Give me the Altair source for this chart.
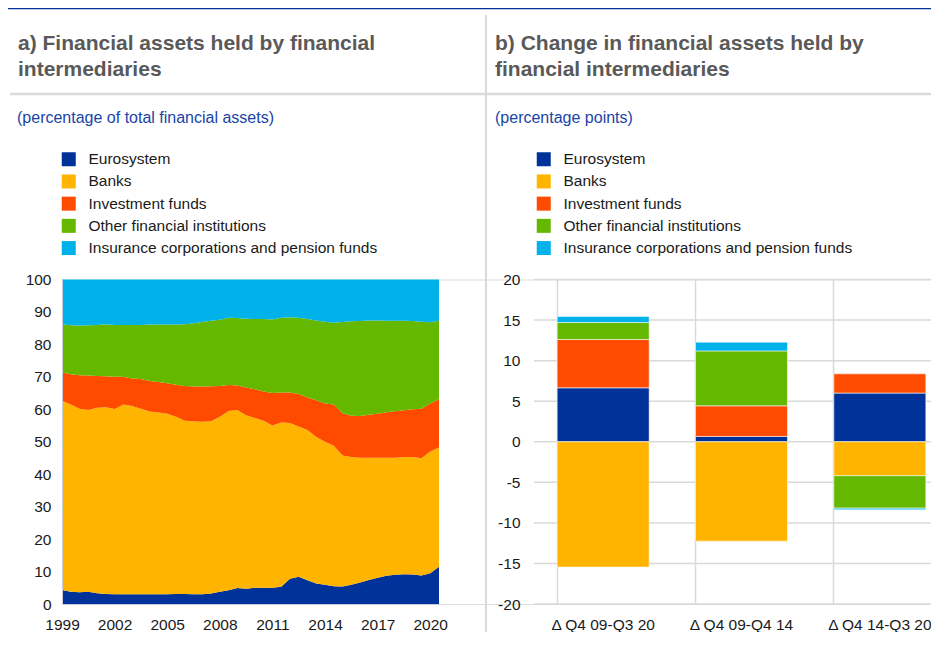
import altair as alt
import pandas as pd

FONT = "Liberation Sans"

series = ["Eurosystem", "Banks", "Investment funds",
          "Other financial institutions", "Insurance corporations and pension funds"]
colors = ["#003299", "#FFB400", "#FF4B00", "#65B800", "#00B1EA"]

# panel a: semi-annual observations (year fraction), shares in % of total
periods = [1999.0, 1999.5, 2000.0, 2000.5, 2001.0, 2001.5, 2002.0, 2002.5, 2003.0, 2003.5,
           2004.0, 2004.5, 2005.0, 2005.5, 2006.0, 2006.5, 2007.0, 2007.5, 2008.0, 2008.5,
           2009.0, 2009.5, 2010.0, 2010.5, 2011.0, 2011.5, 2012.0, 2012.5, 2013.0, 2013.5,
           2014.0, 2014.5, 2015.0, 2015.5, 2016.0, 2016.5, 2017.0, 2017.5, 2018.0, 2018.5,
           2019.0, 2019.5, 2020.0, 2020.5]
eurosystem = [4.3, 3.8, 3.6, 3.8, 3.3, 3.1, 3.0, 3.0, 3.0, 3.0,
              3.0, 3.0, 3.0, 3.1, 3.1, 3.0, 3.0, 3.2, 3.8, 4.2,
              4.9, 4.7, 5.0, 5.0, 5.0, 5.3, 7.8, 8.4, 7.3, 6.3,
              5.9, 5.5, 5.4, 5.9, 6.6, 7.4, 8.1, 8.7, 9.0, 9.2,
              9.1, 8.8, 9.5, 11.5]
banks = [58.3, 57.7, 56.6, 56.0, 57.2, 57.5, 57.1, 58.5, 58.0, 57.2,
         56.3, 56.0, 55.6, 54.6, 53.4, 53.3, 53.2, 53.1, 53.9, 55.3,
         54.9, 53.5, 52.3, 51.5, 50.0, 50.6, 48.0, 46.3, 46.3, 45.2,
         44.1, 43.3, 40.4, 39.4, 38.5, 37.7, 37.0, 36.4, 36.1, 36.1,
         36.2, 36.1, 37.5, 36.7]
inv_funds = [8.8, 9.3, 10.3, 10.6, 9.8, 9.6, 9.9, 8.5, 8.5, 9.1,
             9.4, 9.4, 9.4, 9.9, 10.7, 10.7, 10.8, 10.8, 9.5, 8.0,
             7.5, 8.5, 8.9, 9.0, 10.0, 9.3, 9.4, 10.0, 10.0, 11.3,
             11.8, 12.7, 13.0, 12.7, 12.8, 13.2, 13.5, 14.0, 14.3, 14.4,
             14.7, 15.3, 14.8, 14.9]
ofi = [14.8, 15.1, 15.3, 15.5, 15.7, 16.0, 16.0, 16.0, 16.5, 16.7,
       17.4, 17.7, 18.1, 18.5, 19.0, 19.5, 19.9, 20.2, 20.4, 20.7,
       20.8, 21.2, 21.6, 22.3, 22.7, 23.0, 23.2, 23.5, 24.2, 24.6,
       25.2, 25.2, 28.1, 29.1, 29.3, 29.1, 28.8, 28.2, 27.9, 27.6,
       27.2, 26.8, 25.0, 24.2]
icpf = [13.8, 14.1, 14.2, 14.1, 14.0, 13.8, 14.0, 14.0, 14.0, 14.0,
        13.9, 13.9, 13.9, 13.9, 13.8, 13.5, 13.1, 12.7, 12.4, 11.8,
        11.9, 12.1, 12.2, 12.2, 12.3, 11.8, 11.6, 11.8, 12.2, 12.6,
        13.0, 13.3, 13.1, 12.9, 12.8, 12.6, 12.6, 12.7, 12.7, 12.7,
        12.8, 13.0, 13.2, 12.7]
year_ticks = [1999, 2002, 2005, 2008, 2011, 2014, 2017, 2020]
left_y_ticks = [0, 10, 20, 30, 40, 50, 60, 70, 80, 90, 100]

# panel b
bar_periods = ["\u0394 Q4 09-Q3 20", "\u0394 Q4 09-Q4 14", "\u0394 Q4 14-Q3 20"]
b_eurosystem = [6.65, 0.66, 6.0]
b_banks = [-15.45, -12.25, -4.19]
b_inv_funds = [5.95, 3.77, 2.37]
b_ofi = [2.1, 6.77, -4.0]
b_icpf = [0.75, 1.08, -0.2]
right_y_ticks = [-20, -15, -10, -5, 0, 5, 10, 15, 20]

# ---------- tables ----------
area_rows = []
for k, (name, vals) in enumerate(zip(series, [eurosystem, banks, inv_funds, ofi, icpf])):
    for t, v in zip(periods, vals):
        area_rows.append({"t": t, "s": name, "k": k, "v": v})
df_area = pd.DataFrame(area_rows)

bar_rows = []
for k, (name, vals) in enumerate(zip(series, [b_eurosystem, b_banks, b_inv_funds, b_ofi, b_icpf])):
    for p, v in zip(bar_periods, vals):
        bar_rows.append({"p": p, "s": name, "k": k, "v": v})
df_bar = pd.DataFrame(bar_rows)

W, H = 869, 324.5
LW = 377
RX0, RX1 = 472, 887
GRID = "#d9d9d9"
LABEL = "#1a1a1a"


def legend(x):
    return alt.Legend(orient="none", legendX=x, legendY=-128, title=None,
                      symbolType="square", symbolSize=196, symbolStrokeWidth=0,
                      labelFont=FONT, labelFontSize=15.5, labelColor=LABEL, labelLimit=0,
                      labelOffset=12, rowPadding=5.2, padding=0, direction="vertical")


color_scale = alt.Scale(domain=series, range=colors)

area = alt.Chart(df_area).mark_area(interpolate="linear").encode(
    x=alt.X("t:Q", scale=alt.Scale(domain=[1999, 2020.5], range=[0, LW], nice=False, zero=False),
            axis=alt.Axis(orient="bottom", values=year_ticks, format="d", title=None,
                          grid=False, ticks=False, tickSize=0, labelPadding=13,
                          labelFlush=False, labelOverlap=False,
                          domainColor="#c6cdd9", domainWidth=1, labelFont=FONT,
                          labelFontSize=15.5, labelColor=LABEL, zindex=1)),
    y=alt.Y("v:Q", stack="zero", scale=alt.Scale(domain=[0, 100], nice=False),
            axis=alt.Axis(orient="left", values=left_y_ticks, title=None, grid=False,
                          ticks=False, tickSize=0, labelPadding=11,
                          domainColor="#c6cdd9", domainWidth=1, labelFont=FONT,
                          labelFontSize=15.5, labelColor=LABEL, zindex=1)),
    color=alt.Color("s:N", scale=color_scale, legend=legend(-1)),
    order=alt.Order("k:Q", sort="ascending"),
)

ry_scale = alt.Scale(domain=[-20, 20], nice=False, zero=False)
ry_axis = alt.Axis(orient="left", offset=-RX0, values=right_y_ticks, title=None, grid=False,
                   ticks=False, tickSize=0, domain=False, labelPadding=14, labelFont=FONT,
                   labelExpr="datum.value + ''",
                   labelFontSize=15.5, labelColor=LABEL)

grid_rules = alt.Chart(pd.DataFrame({"v": right_y_ticks})).mark_rule(
    color=GRID, strokeWidth=1.5).encode(
    y=alt.Y("v:Q", scale=ry_scale, axis=ry_axis),
    x=alt.value(RX0), x2=alt.value(W),
)

bars = alt.Chart(df_bar).mark_bar(stroke="white", strokeWidth=0.8, strokeOpacity=0.7).encode(
    x=alt.X("p:N", sort=bar_periods,
            scale=alt.Scale(domain=bar_periods, range=[RX0, RX1], paddingInner=0.335, paddingOuter=0.1675),
            axis=alt.Axis(orient="bottom", title=None, grid=True, bandPosition=0, gridColor=GRID,
                          gridWidth=1.5, ticks=False, tickSize=0, domain=False, labelPadding=13,
                          labelAngle=0, labelFont=FONT, labelFontSize=15.5, labelColor=LABEL)),
    y=alt.Y("v:Q", stack="zero", scale=ry_scale, axis=ry_axis),
    color=alt.Color("s:N", scale=color_scale, legend=legend(474)),
    order=alt.Order("k:Q", sort="ascending"),
)

right = alt.layer(grid_rules, bars)

one = pd.DataFrame({"a": [1]})


def text(x, y, s, size, bold, color):
    return alt.Chart(one).mark_text(align="left", baseline="alphabetic", font=FONT, fontSize=size,
                                    fontWeight="bold" if bold else "normal", color=color).encode(
        x=alt.value(x), y=alt.value(y), text=alt.value(s))


def rule(x, x2, y, y2, color, width):
    return alt.Chart(one).mark_rule(color=color, strokeWidth=width).encode(
        x=alt.value(x), x2=alt.value(x2), y=alt.value(y), y2=alt.value(y2))


TITLE = "#595959"
SUB = "#1a44a8"
decor = [
    rule(-54, W, -271, -271, "#003299", 1.5),
    rule(-52, W, -185.5, -185.5, GRID, 2.5),
    rule(424, 424, -264.5, 352.5, GRID, 2),
    text(-44, -229.5, "a) Financial assets held by financial", 21, True, TITLE),
    text(-44, -203.5, "intermediaries", 21, True, TITLE),
    text(433, -229.5, "b) Change in financial assets held by", 21, True, TITLE),
    text(433, -203.5, "financial intermediaries", 21, True, TITLE),
    text(-45, -156.2, "(percentage of total financial assets)", 16, False, SUB),
    text(433, -156.2, "(percentage points)", 16, False, SUB),
]

chart = alt.layer(area, right, *decor).resolve_scale(
    x="independent", y="independent", color="independent"
).properties(
    width=W, height=H,
    autosize=alt.AutoSizeParams(type="none"),
    padding={"left": 54, "top": 271.5, "right": 0, "bottom": 28},
).configure_view(strokeWidth=0).configure(font=FONT)

chart.save("out.html", embed_options={"renderer": "svg", "actions": False})
